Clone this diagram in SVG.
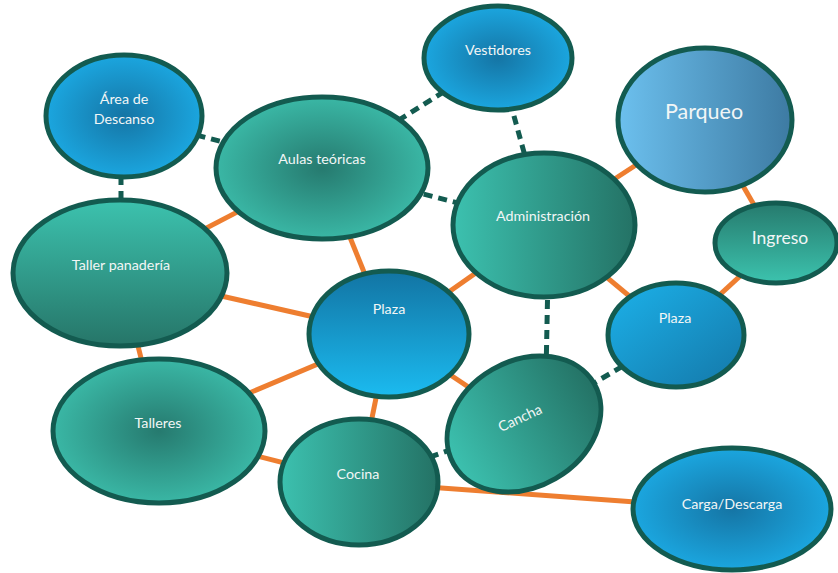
<svg xmlns="http://www.w3.org/2000/svg" width="838" height="573" viewBox="0 0 838 573">
<defs>
<radialGradient id="tealRad" cx="0.5" cy="0.5" r="0.5">
<stop offset="0" stop-color="#267a6f"/><stop offset="1" stop-color="#3ab7a5"/>
</radialGradient>
<radialGradient id="blueRad" cx="0.5" cy="0.5" r="0.5">
<stop offset="0" stop-color="#1575a5"/><stop offset="1" stop-color="#1ba6df"/>
</radialGradient>
<linearGradient id="tealLR" x1="0" y1="0" x2="1" y2="0">
<stop offset="0" stop-color="#3cc1af"/><stop offset="1" stop-color="#247265"/>
</linearGradient>
<linearGradient id="tealTB" x1="0" y1="0" x2="0" y2="1">
<stop offset="0" stop-color="#3cc2ae"/><stop offset="1" stop-color="#267568"/>
</linearGradient>
<linearGradient id="tealBT" x1="0" y1="0" x2="0" y2="1">
<stop offset="0" stop-color="#267a6d"/><stop offset="1" stop-color="#3cc3ae"/>
</linearGradient>
<linearGradient id="blueTB" x1="0" y1="0" x2="0" y2="1">
<stop offset="0" stop-color="#1274a3"/><stop offset="1" stop-color="#1bbbf0"/>
</linearGradient>
<linearGradient id="blueDiag" x1="0" y1="0" x2="1" y2="1">
<stop offset="0" stop-color="#1cb2ea"/><stop offset="1" stop-color="#1477a8"/>
</linearGradient>
<linearGradient id="parq" x1="0" y1="0" x2="1" y2="0">
<stop offset="0" stop-color="#6cc0ee"/><stop offset="1" stop-color="#3d7aa2"/>
</linearGradient>
</defs>
<style>
.n{stroke:#135b50;stroke-width:5}
.t{font-family:Lato,"Open Sans",sans-serif;font-size:14.3px;fill:#f2f6f6;text-anchor:middle}
.o{stroke:#ee7e30;stroke-width:5;fill:none}
.d{stroke:#135b50;stroke-width:5;stroke-dasharray:9 6;fill:none}
</style>
<g id="connectors">
<line class="o" x1="322" y1="168" x2="120" y2="273"/>
<line class="o" x1="322" y1="168" x2="389" y2="334"/>
<line class="o" x1="120" y1="273" x2="389" y2="334"/>
<line class="o" x1="120" y1="273" x2="159" y2="431"/>
<line class="o" x1="159" y1="431" x2="389" y2="334"/>
<line class="o" x1="389" y1="334" x2="544" y2="225"/>
<line class="o" x1="389" y1="334" x2="524" y2="424"/>
<line class="o" x1="389" y1="334" x2="359" y2="482"/>
<line class="o" x1="159" y1="431" x2="359" y2="482"/>
<line class="o" x1="359" y1="482" x2="732" y2="509"/>
<line class="o" x1="544" y1="225" x2="676" y2="335"/>
<line class="o" x1="544" y1="225" x2="705" y2="120"/>
<line class="o" x1="705" y1="120" x2="776" y2="243"/>
<line class="o" x1="776" y1="243" x2="676" y2="335"/>
<line class="d" x1="124" y1="116" x2="322" y2="168"/>
<line class="d" x1="121" y1="116" x2="121" y2="273"/>
<line class="d" x1="322" y1="168" x2="498" y2="58"/>
<line class="d" x1="498" y1="58" x2="544" y2="225"/>
<line class="d" x1="322" y1="168" x2="544" y2="225"/>
<line class="d" x1="549" y1="225" x2="545" y2="424"/>
<line class="d" x1="524" y1="424" x2="676" y2="335"/>
<line class="d" x1="359" y1="482" x2="524" y2="424"/>
</g>
<g id="area-descanso"><ellipse class="n" cx="124" cy="116" rx="78" ry="61" fill="url(#blueRad)"/><text class="t" x="124" y="104">Área de</text><text class="t" x="124" y="124">Descanso</text></g>
<g id="vestidores"><ellipse class="n" cx="498" cy="58" rx="74" ry="52" fill="url(#blueRad)"/><text class="t" x="498" y="55">Vestidores</text></g>
<g id="aulas"><ellipse class="n" cx="322" cy="168" rx="106" ry="71" fill="url(#tealRad)"/><text class="t" x="322" y="164">Aulas teóricas</text></g>
<g id="parqueo"><ellipse class="n" cx="705" cy="120" rx="87" ry="72" fill="url(#parq)"/><text class="t" x="704" y="119" style="font-size:21.5px">Parqueo</text></g>
<g id="administracion"><ellipse class="n" cx="544" cy="225" rx="91" ry="72" fill="url(#tealLR)"/><text class="t" x="543" y="221">Administración</text></g>
<g id="ingreso"><ellipse class="n" cx="776" cy="243" rx="61" ry="40" fill="url(#tealBT)"/><text class="t" x="780" y="244" style="font-size:17.5px">Ingreso</text></g>
<g id="taller-panaderia"><ellipse class="n" cx="120" cy="273" rx="107" ry="73" fill="url(#tealTB)"/><text class="t" x="121" y="270">Taller panadería</text></g>
<g id="plaza-centro"><ellipse class="n" cx="389" cy="334" rx="80" ry="63" fill="url(#blueTB)"/><text class="t" x="389" y="314">Plaza</text></g>
<g id="plaza-derecha"><ellipse class="n" cx="676" cy="335" rx="68" ry="52" fill="url(#blueDiag)"/><text class="t" x="675" y="323">Plaza</text></g>
<g id="cancha"><ellipse class="n" cx="524" cy="424" rx="81" ry="63" transform="rotate(-30 524 424)" fill="url(#tealLR)"/><text class="t" x="520" y="423" transform="rotate(-25 520 418)">Cancha</text></g>
<g id="talleres"><ellipse class="n" cx="159" cy="431" rx="106" ry="72" fill="url(#tealRad)"/><text class="t" x="158" y="428">Talleres</text></g>
<g id="cocina"><ellipse class="n" cx="359" cy="482" rx="79" ry="63" fill="url(#tealLR)"/><text class="t" x="358" y="479">Cocina</text></g>
<g id="carga-descarga"><ellipse class="n" cx="732" cy="509" rx="99" ry="61" fill="url(#blueRad)"/><text class="t" x="732" y="509">Carga/Descarga</text></g>
</svg>
